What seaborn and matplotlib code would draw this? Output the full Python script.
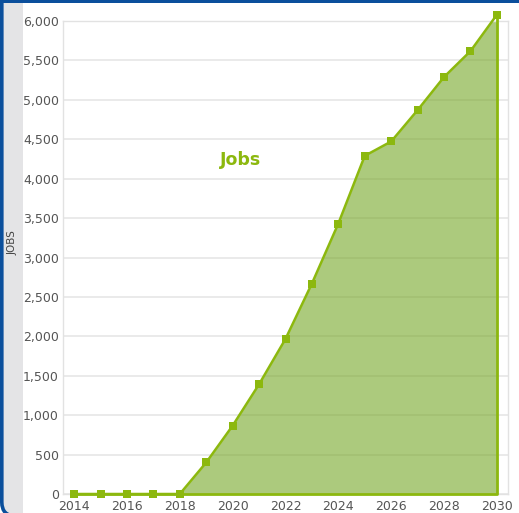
import matplotlib
matplotlib.use("Agg")
import matplotlib.pyplot as plt
from matplotlib.patches import FancyBboxPatch, Rectangle
from matplotlib.ticker import FuncFormatter, MultipleLocator
import seaborn as sns
import pandas as pd

# Projected jobs by year
years = [2014, 2015, 2016, 2017, 2018, 2019, 2020, 2021, 2022,
         2023, 2024, 2025, 2026, 2027, 2028, 2029, 2030]
jobs = [0, 0, 0, 0, 0, 400, 867, 1392, 1967,
        2670, 3431, 4290, 4472, 4870, 5290, 5618, 6080]
x_ticks = [2014, 2016, 2018, 2020, 2022, 2024, 2026, 2028, 2030]
series_name = "Jobs"
y_axis_title = "JOBS"

LINE = "#8cb80e"
FILL = "#76a726"
BLUE = "#0b4f9c"
BAND = "#e4e4e6"
TEXT = "#555555"

sns.set_theme(style="white")
plt.rcParams["font.family"] = ["DejaVu Sans"]

W, H = 519, 513
fig = plt.figure(figsize=(W / 100, H / 100), dpi=100)
fig.patch.set_facecolor("white")

def fx(px):
    return px / W

def fy(py):
    return 1 - py / H

# frame: rounded blue-bordered panel filled grey, white content area to the right
fig.patches.append(FancyBboxPatch((fx(1.8), fy(516)), fx(600), fy(-40) - fy(516),
                                  boxstyle="round,pad=0,rounding_size=0.027",
                                  transform=fig.transFigure, facecolor=BAND,
                                  edgecolor=BLUE, linewidth=2.6, zorder=0.5))
fig.patches.append(Rectangle((fx(22.5), 0), 1, 1, transform=fig.transFigure,
                             facecolor="white", edgecolor="none", zorder=0.6))
fig.patches.append(Rectangle((0, fy(3)), 1, fy(0) - fy(3), transform=fig.transFigure,
                             facecolor=BLUE, edgecolor="none", zorder=1))

ax = fig.add_axes([fx(63), fy(494), fx(508) - fx(63), fy(21) - fy(494)])
ax.set_zorder(2)
ax.set_facecolor("white")

df = pd.DataFrame({"year": years, "jobs": jobs})

ax.fill_between(df["year"], df["jobs"], 0, color=FILL, alpha=0.6, linewidth=0, zorder=2)
ax.plot([years[0], years[-1], years[-1]], [0, 0, jobs[-1]], color=LINE, linewidth=2,
        zorder=3, clip_on=False)
sns.lineplot(data=df, x="year", y="jobs", ax=ax, color=LINE, linewidth=1.8,
             marker="s", markersize=5.5, markeredgewidth=0, zorder=4, clip_on=False)

ax.set_xlim(2013.58, 2030.42)
ax.set_ylim(0, 6000)
ax.set_xticks(x_ticks)
ax.yaxis.set_major_locator(MultipleLocator(500))
ax.yaxis.set_major_formatter(FuncFormatter(lambda v, p: f"{int(v):,}"))
ax.grid(axis="y", color="#e6e6e6", linewidth=1.2, zorder=0)
ax.grid(axis="x", visible=False)
ax.set_axisbelow(True)
ax.tick_params(axis="both", length=0, labelsize=9, labelcolor=TEXT)
ax.tick_params(axis="y", pad=3)
ax.tick_params(axis="x", pad=4)
ax.set_xlabel("")
ax.set_ylabel("")
for side in ["left", "right", "top", "bottom"]:
    ax.spines[side].set_color("#e2e2e2")
    ax.spines[side].set_linewidth(1)

ax.text(2020.3, 4240, series_name, color=LINE, fontsize=12.5, fontweight="bold",
        ha="center", va="center")

fig.text(fx(12.5), fy(243), y_axis_title, rotation=90, ha="center", va="center",
         fontsize=7.5, color="#444444", zorder=3)

fig.savefig("out.png", dpi=100)
